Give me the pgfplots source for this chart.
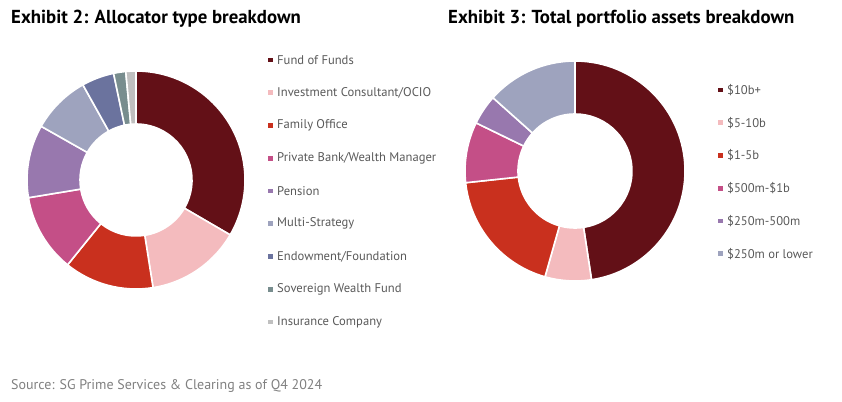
\documentclass[border=0pt]{standalone}
\usepackage{pgfplots}
\pgfplotsset{compat=1.18}
\usepackage{pgfplotstable}
\usepackage{fontspec}
\setmainfont{PT Sans}
\definecolor{c1}{HTML}{631017}
\definecolor{c2}{HTML}{F4BBBE}
\definecolor{c3}{HTML}{C9301E}
\definecolor{c4}{HTML}{C44F87}
\definecolor{c5}{HTML}{9878AE}
\definecolor{c6}{HTML}{9EA3BE}
\definecolor{c7}{HTML}{6B739E}
\definecolor{c8}{HTML}{788D8E}
\definecolor{c9}{HTML}{C0C0C0}
\definecolor{legtext}{HTML}{595959}
\definecolor{srctext}{HTML}{808080}

\pgfplotstableread[col sep=comma]{
label,value,color
Fund of Funds,33.4,c1
Investment Consultant/OCIO,14.1,c2
Family Office,13.3,c3
Private Bank/Wealth Manager,11.6,c4
Pension,10.8,c5
Multi-Strategy,8.7,c6
Endowment/Foundation,4.8,c7
Sovereign Wealth Fund,1.8,c8
Insurance Company,1.5,c9
}\lefttable

\pgfplotstableread[col sep=comma]{
label,value,color
\$10b+,47.6,c1
\$5-10b,6.8,c2
\$1-5b,18.9,c3
\$500m-\$1b,8.9,c4
\$250m-500m,4.4,c5
\$250m or lower,13.4,c6
}\righttable

% #1 table, #2 outer radius, #3 inner radius, #4 legend x, #5 legend top y
\newcommand\donut[5]{%
  \pgfplotstablegetrowsof{#1}%
  \pgfmathtruncatemacro\nrows{\pgfplotsretval-1}%
  \gdef\cur{90}%
  \foreach \i in {0,...,\nrows}{%
    \pgfplotstablegetelem{\i}{value}\of{#1}\let\val\pgfplotsretval
    \pgfplotstablegetelem{\i}{color}\of{#1}\let\col\pgfplotsretval
    \pgfplotstablegetelem{\i}{label}\of{#1}\let\lab\pgfplotsretval
    \pgfmathsetmacro\en{\cur-3.6*\val}%
    \fill[\col, draw=white, line width=1.6bp]
      (axis cs:0,0) ++(\cur:#2bp) arc[start angle=\cur, end angle=\en, radius=#2bp]
      -- ++({\en+180}:{#2bp-#3bp})
      arc[start angle=\en, end angle=\cur, radius=#3bp] -- cycle;
    \fill[\col] (axis cs:#4,{#5-\i*32.75-2.3}) rectangle (axis cs:{#4+4.8},{#5-\i*32.75+2.3});
    \node[anchor=west, inner sep=0pt, text=legtext, font=\fontsize{12.6bp}{14bp}\selectfont]
      at (axis cs:{#4+9},{#5-\i*32.75}) {\lab};
    \xdef\cur{\en}%
  }%
}

\begin{document}
\begin{tikzpicture}
\path[use as bounding box] (0,0) rectangle (842bp,402bp);

\node[anchor=base west, inner sep=0pt, font=\fontsize{18.8bp}{21bp}\selectfont\bfseries]
  at (11bp,378bp) {Exhibit 2: Allocator type breakdown};
\node[anchor=base west, inner sep=0pt, font=\fontsize{18.8bp}{21bp}\selectfont\bfseries]
  at (448bp,378bp) {Exhibit 3: Total portfolio assets breakdown};
\node[anchor=base west, inner sep=0pt, text=srctext, font=\fontsize{14bp}{16bp}\selectfont]
  at (11bp,12.7bp) {Source: SG Prime Services \& Clearing as of Q4 2024};

\begin{axis}[hide axis, x=1bp, y=1bp, xmin=-120, xmax=120, ymin=-120, ymax=120,
  scale only axis, clip=false, at={(136bp,222bp)}, anchor=origin]
  \pgfplotsextra{\donut{\lefttable}{109}{56}{132}{120}}
\end{axis}

\begin{axis}[hide axis, x=1bp, y=1bp, xmin=-120, xmax=120, ymin=-120, ymax=120,
  scale only axis, clip=false, at={(575bp,231bp)}, anchor=origin]
  \pgfplotsextra{\donut{\righttable}{110}{57}{143}{81}}
\end{axis}
\end{tikzpicture}
\end{document}
